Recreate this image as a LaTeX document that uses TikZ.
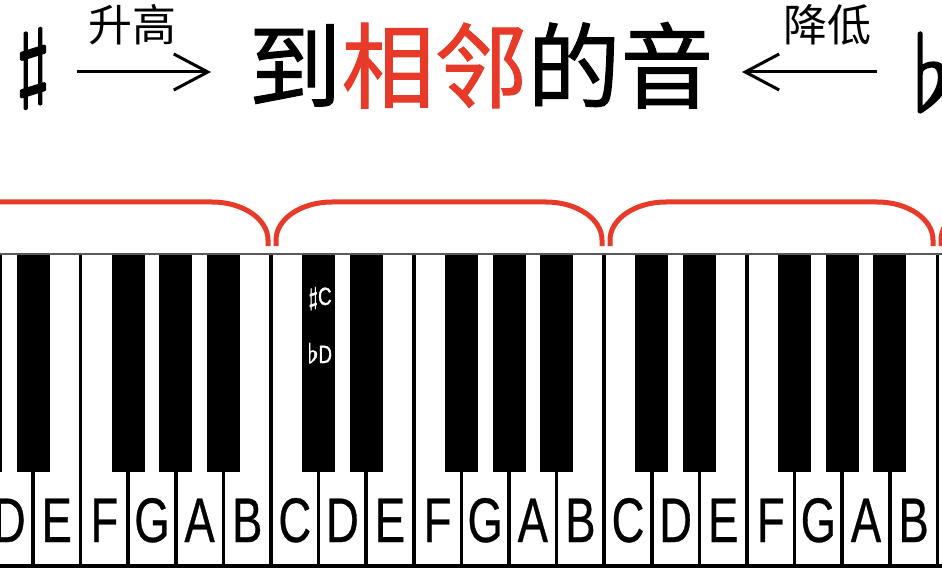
\documentclass[tikz,border=0pt]{standalone}
\usepackage{fontspec}
\setmainfont{Liberation Sans}
\newfontfamily\cjk{Noto Sans CJK SC}
\newfontfamily\cjkbold[FakeBold=1]{Noto Sans CJK SC}
\newfontfamily\keyfont[FakeStretch=0.72, FakeBold=0.5]{Liberation Sans}
\newfontfamily\accfont[FakeStretch=0.75, FakeBold=1]{Liberation Sans}
\newfontfamily\musicsym[FakeBold=2.5]{Latin Modern Math}
\newfontfamily\smallmusic[FakeBold=2]{Latin Modern Math}
\usetikzlibrary{arrows.meta}
\definecolor{braceRed}{RGB}{232,58,40}
\tikzset{
  divider/.style={draw=black, line width=3.5pt},
  blackkey/.style={fill=black},
  keylabel/.style={font=\keyfont\fontsize{63}{63}\selectfont, anchor=base, inner sep=0pt},
  acclabel/.style={font=\accfont\fontsize{25}{25}\selectfont, text=white, anchor=base, inner sep=0pt},
  bracepath/.style={draw=braceRed, line width=5pt},
  arrowline/.style={line width=3pt, -{Straight Barb[length=34pt, width=36pt]}},
  arrowtext/.style={font=\cjk\fontsize{44}{44}\selectfont, anchor=base, inner sep=0pt},
}
\begin{document}
\begin{tikzpicture}[x=1pt,y=-1pt]
\clip (0,0) rectangle (942,572);
\fill[white] (0,0) rectangle (942,572);

% title
\node[anchor=base, inner sep=0pt, font=\cjkbold\fontsize{93}{93}\selectfont] (title) at (481,101)
  {到\textcolor{braceRed}{相邻}的音};
\node[inner sep=0pt, font=\musicsym\fontsize{87}{87}\selectfont] (sharp) at (33,68.5) {♯};
\node[inner sep=0pt, anchor=base west, font=\musicsym\fontsize{103}{103}\selectfont] (flat) at (913,110) {♭};

\coordinate (ra1) at (77,72);
\coordinate (ra2) at (211,72);
\coordinate (la1) at (877,72);
\coordinate (la2) at (742,72);
\draw[arrowline] (ra1) -- (ra2);
\draw[arrowline] (la1) -- (la2);
\node[arrowtext] (up) at (132,42) {升高};
\node[arrowtext] (down) at (827,42) {降低};

% braces over octaves
\foreach \xa/\xb in {-57/268, 276/602, 610/933, 941/1270}{
  \draw[bracepath] (\xa,246) -- (\xa,240)
     arc[start angle=180, end angle=270, x radius=56, y radius=38]
     -- (\xb-56,202)
     arc[start angle=270, end angle=360, x radius=56, y radius=38]
     -- (\xb,246);
}

% keyboard
\fill[white] (0,254) rectangle (942,566);
\foreach \k in {-1,...,20}{
  \draw[divider] ({33+47.6*\k},254) -- ({33+47.6*\k},566);
}
\draw[black, line width=3.5pt] (0,566) -- (942,566);
\foreach \k in {-1,...,20}{
  \pgfmathtruncatemacro\m{mod(\k+7,7)}
  \ifnum\m=1\relax\else\ifnum\m=5\relax\else
    \fill[blackkey] ({33+47.6*\k-16.5},254) rectangle ({33+47.6*\k+16.5},472);
  \fi\fi
}
\draw[black!65, line width=2pt] (0,254) -- (942,254);

\foreach \n [count=\i from 0] in {D,E,F,G,A,B,C,D,E,F,G,A,B,C,D,E,F,G,A,B,C}{
  \node[keylabel] (key\i) at ({9.2+47.6*\i},542) {\n};
}
\node[acclabel] (csharp) at (320,305) {{\smallmusic\fontsize{25}{25}\selectfont ♯}C};
\node[acclabel] (dflat) at (320,363) {{\smallmusic\fontsize{27}{27}\selectfont ♭}D};
\end{tikzpicture}
\end{document}
